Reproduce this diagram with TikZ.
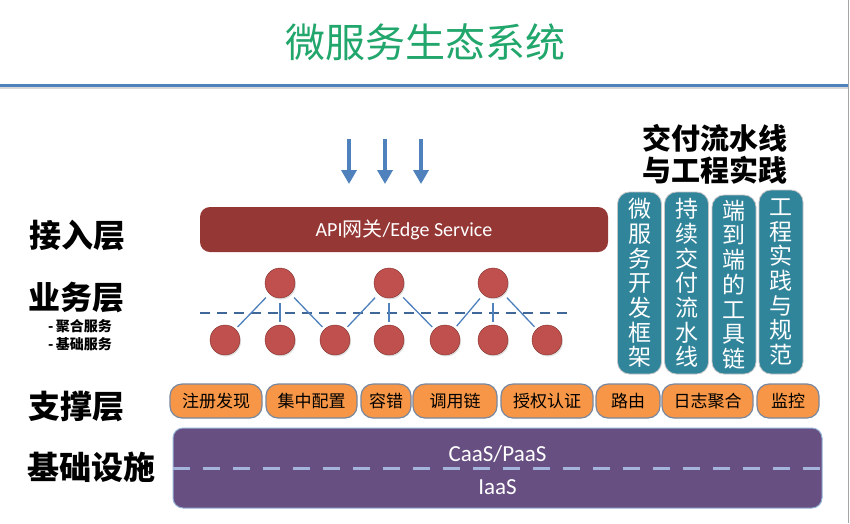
\documentclass[tikz,border=0pt]{standalone}
\usepackage{fontspec}
\setmainfont{Noto Sans CJK SC}
\newfontfamily\lat{Carlito}
\usepackage{xcolor}
\definecolor{msgreen}{RGB}{33,166,108}
\definecolor{msblue}{RGB}{79,129,189}
\definecolor{msred}{RGB}{149,55,53}
\definecolor{mscircle}{RGB}{192,80,77}
\definecolor{msteal}{RGB}{49,133,155}
\definecolor{msorange}{RGB}{247,150,70}
\definecolor{mspurple}{RGB}{104,79,130}
\definecolor{msdash}{RGB}{165,180,218}
\definecolor{msgray}{RGB}{120,135,160}
\usepackage{tikz}
\usetikzlibrary{arrows.meta, positioning, shadows}

\begin{document}
\begin{tikzpicture}[x=1pt, y=-1pt,
  layer/.style={font=\fontsize{32}{32}\selectfont\bfseries, anchor=west, inner sep=0pt},
  sublayer/.style={font=\fontsize{14}{14}\selectfont\bfseries, anchor=west, inner sep=0pt},
  svc/.style={circle, draw=msred!85!black, fill=mscircle, minimum size=30pt, inner sep=0pt,
    drop shadow={opacity=0.25, shadow xshift=1pt, shadow yshift=-1.5pt}},
  link/.style={msblue, line width=1.3pt, shorten <=5pt, shorten >=3pt},
  chip/.style={draw=msgray, line width=1.2pt, fill=msorange, rounded corners=12pt,
    minimum height=34pt, inner sep=0pt, font=\fontsize{17}{17}\selectfont},
  pillar/.style={fill=msteal, draw=gray!45, line width=0.8pt, rounded corners=12pt,
    minimum width=44pt, inner sep=0pt, text=white, align=center,
    font=\fontsize{23}{24.7}\selectfont}]

\fill[white] (0,0) rectangle (850,523);
\useasboundingbox (0,0) rectangle (850,523);

% --- Title ---
\node[font=\fontsize{40}{40}\selectfont, msgreen] (title) at (425,42) {微服务生态系统};
\draw[black!15, line width=2pt] (0,88) -- (848,88);
\draw[msblue, line width=3pt] (0,85) -- (848,85);
\draw[gray!70, line width=0.8pt] (848.5,0) -- (848.5,523);

% --- Layer labels ---
\node[layer] (lbl-access) at (29,235) {接入层};
\node[layer] (lbl-biz) at (28,298) {业务层};
\node[sublayer] (lbl-agg) at (48,326) {-\,聚合服务};
\node[sublayer] (lbl-base) at (48,344) {-\,基础服务};
\node[layer] (lbl-support) at (28,407) {支撑层};
\node[layer] (lbl-infra) at (27,467) {基础设施};

% --- Incoming requests ---
\foreach \i/\x in {1/349, 2/385, 3/421} {
  \coordinate (in\i) at (\x,139);
  \coordinate (in\i-end) at (\x,184);
  \draw[msblue, line width=4pt, -{Triangle[width=15pt, length=14pt]}] (in\i) -- (in\i-end);
}

% --- Access layer: gateway ---
\node[fill=msred, rounded corners=10pt, minimum width=408pt, minimum height=45pt,
      text=white, font=\fontsize{20}{20}\selectfont]
      (gateway) at (404,229.5) {{\lat API}网关{\lat /Edge Service}};

% --- Business layer ---
\coordinate (biz-l) at (200,313);
\coordinate (biz-r) at (572,313);
\draw[msblue!80!black, line width=1.6pt, dash pattern=on 10pt off 7pt] (biz-l) -- (biz-r);

% aggregate services
\node[svc] (agg1) at (280,283) {};
\node[svc] (agg2) at (389,283) {};
\node[svc] (agg3) at (493,283) {};
% base services
\node[svc] (base1) at (225,340) {};
\node[svc] (base2) at (280,340) {};
\node[svc] (base3) at (335,340) {};
\node[svc] (base4) at (389,340) {};
\node[svc] (base5) at (445,340) {};
\node[svc] (base6) at (493,340) {};
\node[svc] (base7) at (547,340) {};

\foreach \a/\b in {1/1, 1/2, 1/3, 2/3, 2/4, 2/5, 3/5, 3/6, 3/7}
  \draw[link] (agg\a) -- (base\b);

% --- Delivery pipeline and engineering practice ---
\node[font=\fontsize{29}{32}\selectfont\bfseries, align=center] (pipe-title) at (715,154) {交付流水线\\与工程实践};
\node[pillar, minimum height=182pt] (pillar1) at (639.5,283) {微\\服\\务\\开\\发\\框\\架};
\node[pillar, minimum height=182pt] (pillar2) at (686.5,283) {持\\续\\交\\付\\流\\水\\线};
\node[pillar, minimum height=179pt] (pillar3) at (734,284.5) {端\\到\\端\\的\\工\\具\\链};
\node[pillar, minimum height=184pt] (pillar4) at (781,282) {工\\程\\实\\践\\与\\规\\范};

% --- Support layer ---
\node[chip, minimum width=92pt] (reg) at (216,401) {注册发现};
\node[chip, minimum width=91pt] (conf) at (311.5,401) {集中配置};
\node[chip, minimum width=50pt] (fault) at (386,401) {容错};
\node[chip, minimum width=84pt] (trace) at (455,401) {调用链};
\node[chip, minimum width=92pt] (auth) at (547,401) {授权认证};
\node[chip, minimum width=64pt] (route) at (628,401) {路由};
\node[chip, minimum width=91pt] (logs) at (707.5,401) {日志聚合};
\node[chip, minimum width=62pt] (mon) at (788,401) {监控};

% --- Infrastructure ---
\node[fill=mspurple, draw=msblue!60, line width=1pt, rounded corners=10pt,
      minimum width=649pt, minimum height=80pt] (infra) at (497.5,468) {};
\draw[msdash, line width=3pt, dash pattern=on 17pt off 13pt] (infra.west) -- (infra.east);
\node[text=white, font=\lat\fontsize{23}{23}\selectfont] (caas) at (497.5,454) {CaaS/PaaS};
\node[text=white, font=\lat\fontsize{23}{23}\selectfont] (iaas) at (497.5,487) {IaaS};

\end{tikzpicture}
\end{document}
